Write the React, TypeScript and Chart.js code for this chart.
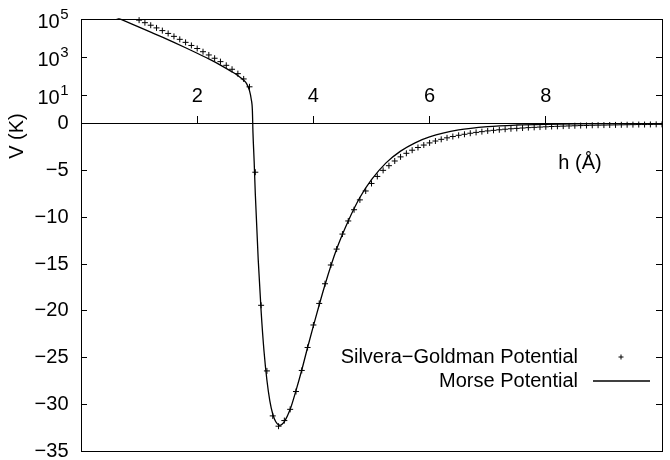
import React, { useEffect, useRef } from 'react';
import { Chart, registerables, LinearScale } from 'chart.js';

Chart.register(...registerables);

// ---------- data ----------
const SG_H = [
  1.0, 1.1, 1.2, 1.3, 1.4, 1.5, 1.6, 1.7, 1.8, 1.9,
  2.0, 2.1, 2.2, 2.3, 2.4, 2.5, 2.6, 2.7, 2.8, 2.9,
  3.0, 3.1, 3.2, 3.3, 3.4, 3.5, 3.6, 3.7, 3.8, 3.9,
  4.0, 4.1, 4.2, 4.3, 4.4, 4.5, 4.6, 4.7, 4.8, 4.9,
  5.0, 5.1, 5.2, 5.3, 5.4, 5.5, 5.6, 5.7, 5.8, 5.9,
  6.0, 6.1, 6.2, 6.3, 6.4, 6.5, 6.6, 6.7, 6.8, 6.9,
  7.0, 7.1, 7.2, 7.3, 7.4, 7.5, 7.6, 7.7, 7.8, 7.9,
  8.0, 8.1, 8.2, 8.3, 8.4, 8.5, 8.6, 8.7, 8.8, 8.9,
  9.0, 9.1, 9.2, 9.3, 9.4, 9.5, 9.6, 9.7, 9.8, 9.9,
  10.0,
];
const SG_V = [
  87000, 64000, 47000, 34000, 24500, 17400, 12200, 8500, 5900, 4050,
  2800, 1900, 1280, 860, 570, 365, 226, 133, 70, 27,
  -5.2, -19.4, -26.4, -31.2, -32.3, -31.7, -30.5, -28.6, -26.35, -23.9,
  -21.5, -19.2, -17.1, -15.1, -13.4, -11.8, -10.4, -9.2, -8.15, -7.2,
  -6.4, -5.65, -5.0, -4.5, -4.0, -3.56, -3.18, -2.85, -2.56, -2.3,
  -2.07, -1.87, -1.69, -1.53, -1.39, -1.26, -1.15, -1.04, -0.95, -0.87,
  -0.79, -0.73, -0.67, -0.61, -0.56, -0.52, -0.48, -0.44, -0.41, -0.38,
  -0.35, -0.32, -0.3, -0.28, -0.26, -0.24, -0.22, -0.21, -0.19, -0.18,
  -0.17, -0.16, -0.15, -0.14, -0.13, -0.12, -0.11, -0.11, -0.1, -0.09,
  -0.09,
];
const MORSE_H = [
  0.6, 0.8, 1.0, 1.2, 1.4, 1.6, 1.8, 2.0, 2.2, 2.4,
  2.6, 2.7, 2.8, 2.85, 2.9, 2.93, 2.95, 2.96, 2.98, 3.0,
  3.05, 3.1, 3.15, 3.2, 3.25, 3.3, 3.35, 3.42, 3.5, 3.6,
  3.7, 3.8, 3.9, 4.0, 4.2, 4.4, 4.6, 4.8, 5.0, 5.25,
  5.5, 5.75, 6.0, 6.5, 7.0, 7.5, 8.0, 8.5, 9.0, 9.5,
  10.0,
];
const MORSE_V = [
  124000, 68000, 37300, 20300, 11000, 5850, 3070, 1580, 790, 375,
  165, 105, 60, 40, 17, 6, 1.5, -1.0, -4.0, -7.5,
  -14.5, -20.0, -24.3, -27.4, -29.6, -31.0, -31.8, -32.2, -31.8, -30.5,
  -28.5, -26.3, -23.9, -21.6, -17.2, -13.4, -10.4, -7.9, -6.0, -4.2,
  -2.95, -2.06, -1.43, -0.69, -0.33, -0.16, -0.08, -0.04, -0.02, -0.01,
  -0.004,
];
const X_TICKS = [2, 4, 6, 8];
const Y_TICKS = [-35, -30, -25, -20, -15, -10, -5, 0, 10, 1000, 100000];
const Y_TICK_LABELS = ['−35', '−30', '−25', '−20', '−15', '−10', '−5', '0', '10', '10', '10'];
const Y_TICK_EXPONENTS = ['', '', '', '', '', '', '', '', '1', '3', '5'];
const SERIES_LABELS = ['Silvera−Goldman Potential', 'Morse Potential'];
const X_TITLE = 'h (Å)';
const Y_TITLE = 'V (K)';
const X_MIN = 0;
const X_MAX = 10;
const Y_MIN = -35;
const Y_MAX = 100000;

// ---------- split axis: linear below 0, logarithmic above ----------
const DECADE = 2.0275; // height of one decade, in linear units
const LOG_FLOOR = -0.5; // log10 of the positive value that sits on 0

function toAxis(v: number) {
  return v <= 0 ? v : DECADE * Math.max(0, Math.log10(v) - LOG_FLOOR);
}
function fromAxis(t: number) {
  return t <= 0 ? t : Math.pow(10, t / DECADE + LOG_FLOOR);
}

class SplitLogScale extends LinearScale {
  static id = 'splitlog';
  static defaults = {};
  determineDataLimits() {
    (this as any).min = Y_MIN;
    (this as any).max = Y_MAX;
  }
  buildTicks() {
    return Y_TICKS.map((value) => ({ value }));
  }
  getPixelForValue(value: number) {
    if (value === null || value === undefined || isNaN(value)) return NaN;
    const a = toAxis((this as any).min);
    const b = toAxis((this as any).max);
    return (this as any).getPixelForDecimal((toAxis(value) - a) / (b - a));
  }
  getValueForPixel(pixel: number) {
    const a = toAxis((this as any).min);
    const b = toAxis((this as any).max);
    return fromAxis(a + (this as any).getDecimalForPixel(pixel) * (b - a));
  }
}
Chart.register(SplitLogScale as any);

const FONT_FAMILY = 'Liberation Sans';
const FONT_SIZE = 20;
const SUP_SIZE = 15;

export default function App() {
  const ref = useRef<HTMLCanvasElement>(null);

  useEffect(() => {
    if (!ref.current) return;
    const font = { family: FONT_FAMILY, size: FONT_SIZE };

    const decorations = {
      id: 'decorations',
      afterDraw(chart: any) {
        const { ctx, chartArea } = chart;
        const yScale = chart.scales.y;
        const zero = yScale.getPixelForValue(0);
        ctx.save();
        ctx.fillStyle = '#000';
        ctx.strokeStyle = '#000';
        ctx.textBaseline = 'middle';

        // power-of-ten tick labels with a raised exponent
        const labelRight = chartArea.left - 12.5;
        Y_TICKS.forEach((v, i) => {
          const exp = Y_TICK_EXPONENTS[i];
          if (!exp) return;
          const py = yScale.getPixelForValue(v);
          ctx.textAlign = 'right';
          ctx.font = `${SUP_SIZE}px "${FONT_FAMILY}"`;
          const ew = ctx.measureText(exp).width;
          ctx.fillText(exp, labelRight, py - 4);
          ctx.font = `${FONT_SIZE}px "${FONT_FAMILY}"`;
          ctx.fillText(Y_TICK_LABELS[i], labelRight - ew - 0.5, py + 3.5);
        });

        ctx.font = `${FONT_SIZE}px "${FONT_FAMILY}"`;
        // axis titles
        ctx.textAlign = 'center';
        ctx.fillText(X_TITLE, chartArea.right - 82, zero + 39.5);
        ctx.save();
        ctx.translate(chartArea.left - 64, zero + 12.5);
        ctx.rotate(-Math.PI / 2);
        ctx.fillText(Y_TITLE, 0, 0);
        ctx.restore();

        // key (gnuplot style: text right-aligned, sample on the right)
        const rows = [chartArea.bottom - 94.5, chartArea.bottom - 70.5];
        const cx = chartArea.right - 41;
        chart.data.datasets.forEach((ds: any, i: number) => {
          const ry = rows[i];
          ctx.textAlign = 'right';
          ctx.fillText(ds.label, chartArea.right - 84, ry);
          ctx.beginPath();
          if (ds.showLine) {
            ctx.lineWidth = ds.borderWidth;
            ctx.moveTo(cx - 28, ry);
            ctx.lineTo(cx + 29, ry);
          } else {
            ctx.lineWidth = 1;
            ctx.moveTo(cx - 2.5, ry);
            ctx.lineTo(cx + 2.5, ry);
            ctx.moveTo(cx, ry - 2.5);
            ctx.lineTo(cx, ry + 2.5);
          }
          ctx.stroke();
        });
        ctx.restore();
      },
    };

    const chart = new Chart(ref.current, {
      type: 'scatter',
      data: {
        datasets: [
          {
            label: SERIES_LABELS[0],
            data: SG_H.map((x, i) => ({ x, y: SG_V[i] })),
            xAxisID: 'x',
            yAxisID: 'y',
            showLine: false,
            pointStyle: 'cross',
            pointRadius: 3,
            pointBorderWidth: 1,
            pointBorderColor: '#000',
            pointBackgroundColor: '#000',
            borderColor: '#000',
            backgroundColor: '#000',
            borderWidth: 1,
          },
          {
            label: SERIES_LABELS[1],
            data: MORSE_H.map((x, i) => ({ x, y: MORSE_V[i] })),
            xAxisID: 'x',
            yAxisID: 'y',
            showLine: true,
            pointRadius: 0,
            borderColor: '#000',
            backgroundColor: '#000',
            borderWidth: 1.3,
            cubicInterpolationMode: 'monotone',
            fill: false,
          },
        ],
      } as any,
      options: {
        animation: false,
        responsive: true,
        maintainAspectRatio: false,
        events: [],
        layout: { padding: { left: 0, right: 8, top: 19, bottom: 8.5 } },
        plugins: {
          legend: { display: false },
          tooltip: { enabled: false },
        },
        scales: {
          y: {
            type: 'splitlog',
            position: 'left',
            afterFit: (s: any) => {
              s.width = 81;
              s.paddingTop = 0;
              s.paddingBottom = 0;
            },
            grid: { display: true, drawOnChartArea: false, drawTicks: true, tickLength: -6, color: '#000', lineWidth: 1 },
            border: { display: true, color: '#000', width: 1 },
            ticks: {
              autoSkip: false,
              color: '#000',
              font,
              padding: 18.5,
              callback: (v: number) => {
                const i = Y_TICKS.indexOf(v);
                // labels with an exponent are typeset by the decorations plugin
                return i >= 0 && !Y_TICK_EXPONENTS[i] ? Y_TICK_LABELS[i] : '';
              },
            },
          },
          yRight: {
            type: 'splitlog',
            position: 'right',
            afterFit: (s: any) => {
              s.width = 0;
              s.paddingTop = 0;
              s.paddingBottom = 0;
            },
            grid: { display: true, drawOnChartArea: false, drawTicks: true, tickLength: -6, color: '#000', lineWidth: 1 },
            border: { display: true, color: '#000', width: 1 },
            ticks: { display: false, autoSkip: false },
          },
          x: {
            type: 'linear',
            min: X_MIN,
            max: X_MAX,
            position: { y: 0 },
            afterBuildTicks: (s: any) => {
              s.ticks = X_TICKS.map((value) => ({ value }));
            },
            afterFit: (s: any) => {
              s.paddingLeft = 0;
              s.paddingRight = 0;
            },
            grid: { display: true, drawOnChartArea: false, drawTicks: true, tickLength: -8, color: '#000', lineWidth: 1 },
            border: { display: true, color: '#000', width: 1 },
            ticks: { autoSkip: false, maxRotation: 0, color: '#000', font, padding: -31.5 },
          },
          xTop: {
            type: 'linear',
            min: X_MIN,
            max: X_MAX,
            position: 'top',
            afterFit: (s: any) => {
              s.height = 0;
              s.paddingLeft = 0;
              s.paddingRight = 0;
            },
            grid: { display: false, drawTicks: false },
            border: { display: true, color: '#000', width: 1 },
            ticks: { display: false },
          },
          xBottom: {
            type: 'linear',
            min: X_MIN,
            max: X_MAX,
            position: 'bottom',
            afterFit: (s: any) => {
              s.height = 0;
              s.paddingLeft = 0;
              s.paddingRight = 0;
            },
            grid: { display: false, drawTicks: false },
            border: { display: true, color: '#000', width: 1 },
            ticks: { display: false },
          },
        },
      } as any,
      plugins: [decorations],
    });

    return () => chart.destroy();
  }, []);

  return (
    <div style={{ position: 'fixed', left: 0, top: 0, width: 670, height: 460, background: '#fff' }}>
      <canvas ref={ref} />
    </div>
  );
}
